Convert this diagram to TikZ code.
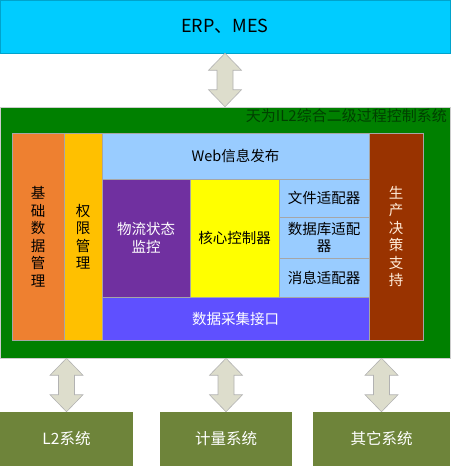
\documentclass[tikz,border=0pt]{standalone}
\usepackage{fontspec}
\setmainfont{Noto Sans CJK SC}
\usetikzlibrary{calc}

\definecolor{erpblue}{HTML}{00CCFF}
\definecolor{framegreen}{HTML}{008000}
\definecolor{baseorange}{HTML}{EE8030}
\definecolor{rightgold}{HTML}{FFC000}
\definecolor{webblue}{HTML}{99CCFF}
\definecolor{flowpurple}{HTML}{7030A0}
\definecolor{coreyellow}{HTML}{FFFF00}
\definecolor{collectblue}{HTML}{5F50FF}
\definecolor{decisionred}{HTML}{993300}
\definecolor{sysolive}{HTML}{6E843A}
\definecolor{arrowgrey}{HTML}{DDDDCC}

\tikzset{
  box/.style={draw=black!35,line width=0.5pt,inner sep=0pt,align=center,
    font=\fontsize{14.5}{17.5}\selectfont},
  sysbox/.style={box,draw=none,fill=sysolive,text=white,minimum height=54pt,
    font=\fontsize{15.5}{18}\selectfont},
  blockarrow/.style={draw=black!30,fill=arrowgrey,line width=0.6pt,line join=miter}
}
% two-way block arrow from a top point #1 down to a bottom point #2
\newcommand\linkarrow[2]{%
  \draw[blockarrow] (#1) -- ++(16.5,17) -- ++(-8.5,0) -- ($(#2)+(8,-17)$)
    -- ++(8.5,0) -- (#2) -- ++(-16.5,-17) -- ++(8.5,0) -- ($(#1)+(-8,17)$)
    -- ++(-8.5,0) -- cycle;}

\begin{document}
\begin{tikzpicture}[x=1pt,y=-1pt]
\useasboundingbox (0,0) rectangle (450,466);

\node[box,fill=erpblue,draw=erpblue!80!black,minimum width=450pt,minimum height=53pt,
  font=\fontsize{18}{20}\selectfont] (erp) at (225,26.5) {ERP、MES};
\node[box,fill=framegreen,draw=black!20,minimum width=450pt,minimum height=251pt] (frame) at (225,232.5) {};
\node[anchor=north east,inner sep=0pt,text=black!75!green,font=\fontsize{15}{17}\selectfont] (title) at (447,109) {天为IL2综合二级过程控制系统};

\node[box,fill=baseorange,minimum width=52pt,minimum height=207pt] (base) at (38,236.5) {基\\础\\数\\据\\管\\理};
\node[box,fill=rightgold,minimum width=38pt,minimum height=207pt] (rights) at (83,236.5) {权\\限\\管\\理};
\node[box,fill=webblue,minimum width=267pt,minimum height=46pt] (web) at (235.5,156) {Web信息发布};
\node[box,fill=flowpurple,text=white,minimum width=88pt,minimum height=118pt] (flow) at (146,238) {物流状态\\监控};
\node[box,fill=coreyellow,minimum width=89pt,minimum height=118pt] (core) at (234.5,238) {核心控制器};
\node[box,fill=webblue,minimum width=90pt,minimum height=38pt] (file) at (324,198) {文件适配器};
\node[box,fill=webblue,minimum width=90pt,minimum height=41pt] (dbase) at (324,237.5) {数据库适配\\器};
\node[box,fill=webblue,minimum width=90pt,minimum height=39pt] (msg) at (324,277.5) {消息适配器};
\node[box,fill=collectblue,text=white,minimum width=267pt,minimum height=43pt] (collect) at (235.5,318.5) {数据采集接口};
\node[box,fill=decisionred,text=orange!15,minimum width=54pt,minimum height=207pt] (decision) at (396,236.5) {生\\产\\决\\策\\支\\持};

\node[sysbox,minimum width=133pt] (ltwo) at (66.5,439) {L2系统};
\node[sysbox,minimum width=132pt] (meter) at (226,439) {计量系统};
\node[sysbox,minimum width=137pt] (other) at (381.5,439) {其它系统};

% two-way links
\linkarrow{erp.south}{erp.south|-frame.north}
\linkarrow{frame.south-|ltwo.north}{ltwo.north}
\linkarrow{frame.south-|meter.north}{meter.north}
\linkarrow{frame.south-|other.north}{other.north}
\end{tikzpicture}
\end{document}
